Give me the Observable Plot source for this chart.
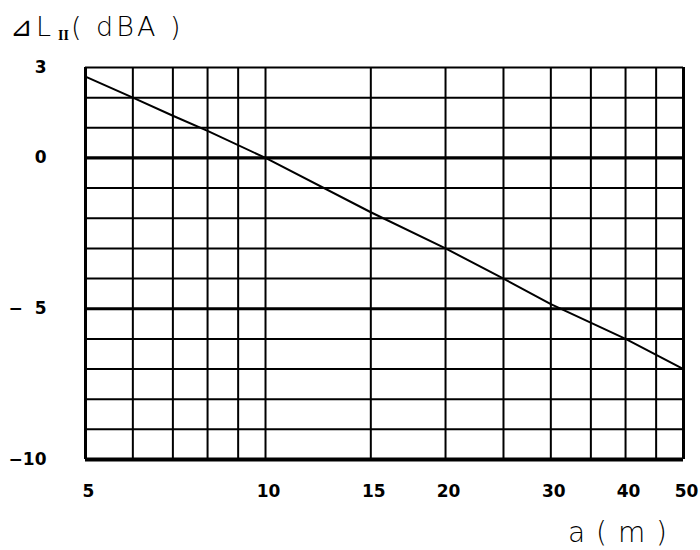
<!DOCTYPE html>
<html><head><meta charset="utf-8">
<script src="https://cdn.jsdelivr.net/npm/d3@7"></script>
<script src="https://cdn.jsdelivr.net/npm/@observablehq/plot@0.6"></script>
<style>body{margin:0;background:#fff}</style>
</head><body><div id="chart"></div>
<script>
// distance a (m) and level difference ΔL_II (dBA)
const distances = [5, 6, 7, 8, 10, 15, 20, 25, 30, 40, 50];
const deltaL = [2.7, 2.0, 1.4, 0.9, 0, -1.8, -3.0, -4.0, -4.85, -6.0, -7.0];

// grid
const xGrid = [5, 6, 7, 8, 9, 10, 15, 20, 25, 30, 35, 40, 45, 50];
const yGrid = [3, 2, 1, 0, -1, -2, -3, -4, -5, -6, -7, -8, -9, -10];
const yMajor = [0, -5, -10];
const xEdges = [5, 50];

// ticks
const xTicks = [5, 10, 15, 20, 30, 40, 50];
const xTickLabels = ["5", "10", "15", "20", "30", "40", "50"];
const yTicks = [3, 0, -5, -10];
const yTickLabels = ["3", "0", "\u2212\u20075", "\u221210"];

const data = distances.map((a, i) => ({a, dL: deltaL[i]}));
const xLab = new Map(xTicks.map((t, i) => [t, xTickLabels[i]]));
const yLab = new Map(yTicks.map((t, i) => [t, yTickLabels[i]]));

const svg = Plot.plot({
  width: 700,
  height: 550,
  marginLeft: 85,
  marginRight: 17,
  marginTop: 67,
  marginBottom: 91,
  x: {type: "log", domain: [5, 50]},
  y: {domain: [-10, 3]},
  style: {fontFamily: "DejaVu Sans", fontSize: "17px", fontWeight: "600", color: "#000", background: "#fff"},
  marks: [
    Plot.ruleX(xGrid, {stroke: "#000", strokeWidth: d => xEdges.includes(d) ? 3 : 2}),
    Plot.ruleY(yGrid, {stroke: "#000", strokeWidth: d => d === -10 ? 4 : (yMajor.includes(d) ? 3.2 : 2)}),
    Plot.line(data, {x: "a", y: "dL", stroke: "#000", strokeWidth: 2}),
    Plot.axisX(xTicks, {tickSize: 0, tickPadding: 25, dx: 3, tickFormat: d => xLab.get(d), label: null}),
    Plot.axisY(yTicks, {tickSize: 0, tickPadding: 39, tickFormat: d => yLab.get(d), label: null})
  ]
});

const s = d3.select(svg);
const title = s.append("text")
  .attr("x", 10).attr("y", 36)
  .attr("text-anchor", "start")
  .attr("font-family", "DejaVu Sans")
  .attr("font-weight", "300")
  .attr("font-size", 27)
  .attr("letter-spacing", 3)
  .attr("fill", "#000");
title.append("tspan").text("\u22BFL");
title.append("tspan").attr("dy", 4).attr("font-size", 14).attr("font-weight", "bold")
  .attr("font-family", "Liberation Serif").attr("letter-spacing", 0).attr("dx", 4).text("II");
title.append("tspan").attr("dy", -4).attr("dx", 2).text("( dBA )");

s.append("text")
  .attr("x", 568).attr("y", 542)
  .attr("text-anchor", "start")
  .attr("font-family", "DejaVu Sans")
  .attr("font-weight", "300")
  .attr("font-size", 28)
  .attr("letter-spacing", 1)
  .attr("fill", "#000")
  .text("a ( m )");

document.getElementById("chart").appendChild(svg);
</script>
</body></html>
